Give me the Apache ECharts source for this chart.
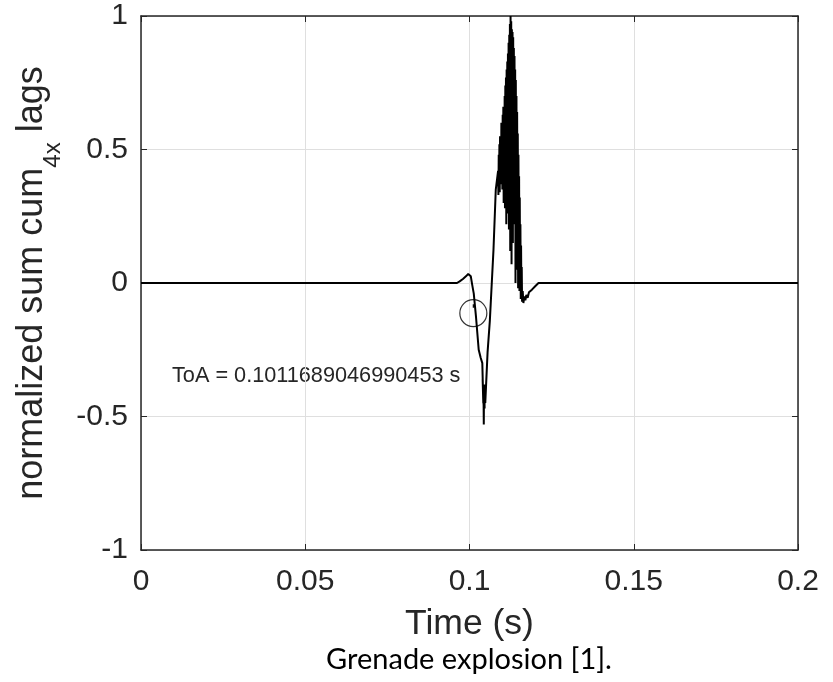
<!DOCTYPE html>
<html>
<head>
<meta charset="utf-8">
<script src="https://cdn.jsdelivr.net/npm/echarts@6/dist/echarts.min.js"></script>
<style>
html,body{margin:0;padding:0;background:#fff;}
#main{width:833px;height:682px;}
</style>
</head>
<body>
<div id="main"></div>
<script>
// ---- data ----
var timeS = [
  0, 0.0962, 0.0970, 0.0980, 0.0990, 0.0996, 0.1001, 0.1004, 0.1008, 0.1013,
  0.1020, 0.1028, 0.1034, 0.1039, 0.1042, 0.1040, 0.1043, 0.10435, 0.1044, 0.1046,
  0.1045, 0.1048, 0.1055, 0.1062, 0.1073, 0.1080, 0.1087,
  0.1088, 0.1089, 0.1090, 0.1091, 0.1092, 0.1093, 0.1094, 0.1095, 0.1096, 0.1097,
  0.1098, 0.1099, 0.1100, 0.1101, 0.1102, 0.1103, 0.1104, 0.1105, 0.1106, 0.1107,
  0.1108, 0.1109, 0.1110, 0.1111, 0.1112, 0.1113, 0.1114, 0.1115, 0.1116, 0.1117,
  0.1118, 0.1119, 0.1120, 0.1121, 0.1122, 0.1123, 0.1124, 0.1125, 0.1126, 0.1127,
  0.1128, 0.1129, 0.1130, 0.1131, 0.1132, 0.1133, 0.1134, 0.1135, 0.1136, 0.1137,
  0.1138, 0.1139, 0.1140, 0.1141, 0.1142, 0.1143, 0.1144, 0.1145, 0.1146, 0.1147,
  0.1148, 0.1149, 0.1150, 0.1151, 0.1152, 0.1153, 0.1154, 0.1155, 0.1156, 0.1157,
  0.1158, 0.1159, 0.1160, 0.1162, 0.1164,
  0.1167, 0.1170, 0.1173, 0.1177, 0.1181, 0.1185, 0.1190, 0.1195, 0.1200, 0.1205,
  0.1210, 0.2
];
var valueS = [
  0, 0, 0.006, 0.015, 0.026, 0.034, 0.040, 0.025, -0.005, -0.04,
  -0.13, -0.25, -0.28, -0.30, -0.45, -0.36, -0.46, -0.53, -0.42, -0.47,
  -0.38, -0.45, -0.26, -0.14, 0.124, 0.35, 0.42,
  0.33, 0.48, 0.36, 0.52, 0.34, 0.55, 0.40, 0.50, 0.37, 0.60,
  0.42, 0.58, 0.35, 0.63, 0.45, 0.66, 0.30, 0.62, 0.40, 0.70,
  0.28, 0.74, 0.45, 0.77, 0.22, 0.80, 0.50, 0.83, 0.26, 0.86,
  0.40, 0.90, 0.20, 0.93, 0.55, 0.97, 0.12, 1.00, 0.45, 0.98,
  0.07, 0.95, 0.40, 0.94, 0.15, 0.92, 0.35, 0.88, 0.22, 0.85,
  0.45, 0.80, 0.00, 0.76, 0.30, 0.70, 0.05, 0.64, 0.25, 0.56,
  -0.02, 0.48, 0.15, 0.40, -0.03, 0.32, 0.02, 0.22, -0.06, 0.14,
  -0.05, 0.06, -0.07, -0.03, -0.075,
  -0.05, -0.065, -0.045, -0.055, -0.035, -0.04, -0.025, -0.02, -0.012, -0.005,
  0, 0
];
var toaTime = 0.1011689046990453;
var toaValue = -0.113;
var toaTickX = [0.10117, 0.10117];
var toaTickY = [-0.080, -0.093];
var xTicks = ['0', '0.05', '0.1', '0.15', '0.2'];
var yTicks = ['-1', '-0.5', '0', '0.5', '1'];
var toaText = 'ToA = 0.1011689046990453 s';
var captionText = 'Grenade explosion [1].';

// ---- chart ----
var FONT = 'Liberation Sans, Arial, sans-serif';
var AX = '#262626';
var chart = echarts.init(document.getElementById('main'), null, {renderer: 'canvas'});
var lineData = timeS.map(function (t, i) { return [t, valueS[i]]; });
var tickData = toaTickX.map(function (t, i) { return [t, toaTickY[i]]; });

function baseX(pos, labels) {
  return {
    type: 'value', position: pos, min: 0, max: 0.2, interval: 0.05,
    axisLine: {show: true, onZero: false, lineStyle: {color: AX, width: 1.5}},
    axisTick: {show: true, inside: true, length: 6, lineStyle: {color: AX, width: 1}},
    axisLabel: {show: labels, margin: 17, fontSize: 30, fontFamily: FONT, color: AX,
      formatter: function (v) { var i = Math.round(v / 0.05); return xTicks[i]; }},
    splitLine: {show: labels, lineStyle: {color: '#dfdfdf', width: 1}}
  };
}
function baseY(pos, labels) {
  return {
    type: 'value', position: pos, min: -1, max: 1, interval: 0.5,
    axisLine: {show: true, onZero: false, lineStyle: {color: AX, width: 1.5}},
    axisTick: {show: true, inside: true, length: 6, lineStyle: {color: AX, width: 1}},
    axisLabel: {show: labels, margin: 13, fontSize: 30, fontFamily: FONT, color: AX,
      formatter: function (v) { var i = Math.round((v + 1) / 0.5); return yTicks[i]; }},
    splitLine: {show: labels, lineStyle: {color: '#dfdfdf', width: 1}}
  };
}

var xa = baseX('bottom', true);
xa.name = 'Time (s)';
xa.nameLocation = 'middle';
xa.nameGap = 56;
xa.nameTextStyle = {fontSize: 35.5, fontFamily: FONT, color: AX};
var ya = baseY('left', true);
ya.name = '{a|normalized sum cum}{b|4x}{a| lags}';
ya.nameLocation = 'middle';
ya.nameRotate = 90;
ya.nameGap = 78;
ya.nameTextStyle = {
  fontFamily: FONT, color: AX,
  rich: {
    a: {fontSize: 36, fontFamily: FONT, color: AX, verticalAlign: 'top', lineHeight: 36},
    b: {fontSize: 24, fontFamily: FONT, color: AX, verticalAlign: 'top', lineHeight: 24, padding: [27, 0, 0, 0]}
  }
};

chart.setOption({
  animation: false,
  backgroundColor: '#fff',
  grid: {left: 141, right: 35, top: 16, bottom: 132, containLabel: false},
  xAxis: [xa, baseX('top', false)],
  yAxis: [ya, baseY('right', false)],
  series: [
    {type: 'line', data: lineData, showSymbol: false, symbol: 'none',
      lineStyle: {color: '#000', width: 2}, clip: true, z: 3},
    {type: 'line', data: tickData, showSymbol: false, symbol: 'none',
      lineStyle: {color: '#000', width: 1.2}, z: 4},
    {type: 'scatter', data: [[toaTime, toaValue]], symbol: 'circle', symbolSize: 27,
      itemStyle: {color: 'rgba(255,255,255,0)', borderColor: '#000', borderWidth: 1.2}, z: 5}
  ],
  graphic: [
    {type: 'text', left: 172, top: 365,
      style: {text: toaText, fontSize: 21.7, fontFamily: FONT, fill: AX}},
    {type: 'text', x: 469, y: 660,
      style: {text: captionText, fontSize: 29, fontFamily: 'Lato, Carlito, sans-serif', fill: '#000',
        align: 'center', verticalAlign: 'middle'}}
  ]
});
</script>
</body>
</html>
